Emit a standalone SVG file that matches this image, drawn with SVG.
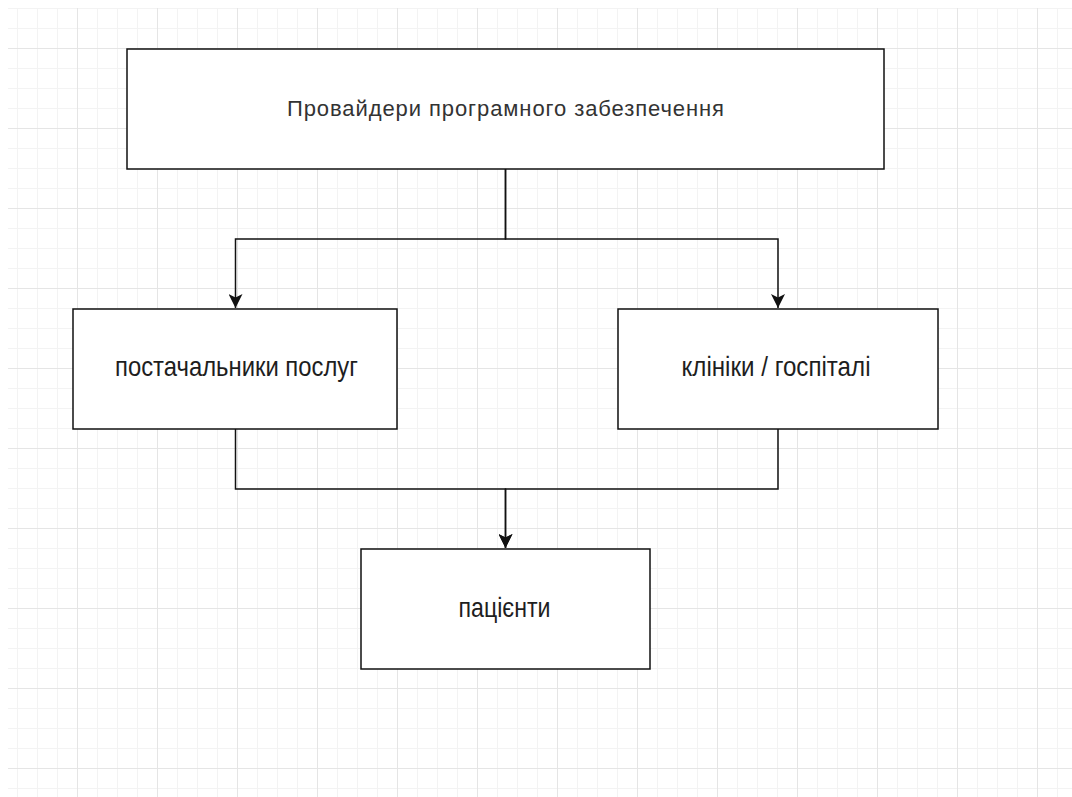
<svg xmlns="http://www.w3.org/2000/svg" width="1072" height="797" viewBox="0 0 1072 797">
  <style>
    .box { fill: #ffffff; stroke: #111111; stroke-width: 1.5; }
    .conn { fill: none; stroke: #111111; stroke-width: 1.5; }
    .lbl { font-family: "Liberation Sans", Arial, sans-serif; fill: #1e1e1e; text-anchor: middle; }
    .big { font-size: 28px; }
    .title { font-size: 22px; fill: #333333; }
  </style>
  <defs>
    <pattern id="grid" x="-3" y="-32" width="80" height="80" patternUnits="userSpaceOnUse">
      <rect x="0" y="0" width="80" height="80" fill="#ffffff"/>
      <rect x="20" y="0" width="1" height="80" fill="#f3f3f3"/>
      <rect x="40" y="0" width="1" height="80" fill="#f3f3f3"/>
      <rect x="60" y="0" width="1" height="80" fill="#f3f3f3"/>
      <rect x="0" y="20" width="80" height="1" fill="#f3f3f3"/>
      <rect x="0" y="40" width="80" height="1" fill="#f3f3f3"/>
      <rect x="0" y="60" width="80" height="1" fill="#f3f3f3"/>
      <rect x="0" y="0" width="1" height="80" fill="#e5e5e5"/>
      <rect x="0" y="0" width="80" height="1" fill="#e5e5e5"/>
    </pattern>
    <marker id="arrow" viewBox="0 0 14 14" refX="14" refY="7" markerWidth="14" markerHeight="14" markerUnits="userSpaceOnUse" orient="auto">
      <path d="M0,0 L14,7 L0,14 L3.5,7 Z" fill="#111111"/>
    </marker>
  </defs>

  <rect x="0" y="0" width="1072" height="797" fill="#ffffff"/>
  <rect x="8" y="8" width="1064" height="789" fill="url(#grid)"/>

  <g id="connectors">
    <path class="conn" d="M505.5,169 V239 H235.5 V308" marker-end="url(#arrow)"/>
    <path class="conn" d="M505.5,169 V239 H778 V308" marker-end="url(#arrow)"/>
    <path class="conn" d="M235.5,429 V489 H505.5 V548" marker-end="url(#arrow)"/>
    <path class="conn" d="M778,429 V489 H505.5 V548" marker-end="url(#arrow)"/>
  </g>

  <g id="node-providers">
    <rect class="box" x="127" y="49" width="757" height="120"/>
    <text class="lbl title" x="505.5" y="116" textLength="437" lengthAdjust="spacing">Провайдери програмного забезпечення</text>
  </g>

  <g id="node-suppliers">
    <rect class="box" x="73" y="309" width="324" height="120"/>
    <text class="lbl big" x="236.5" y="376" textLength="243" lengthAdjust="spacingAndGlyphs">постачальники послуг</text>
  </g>

  <g id="node-clinics">
    <rect class="box" x="618" y="309" width="320" height="120"/>
    <text class="lbl big" x="776" y="376" textLength="189" lengthAdjust="spacingAndGlyphs">клініки / госпіталі</text>
  </g>

  <g id="node-patients">
    <rect class="box" x="361" y="549" width="289" height="120"/>
    <text class="lbl big" x="504.5" y="617" textLength="92" lengthAdjust="spacingAndGlyphs">пацієнти</text>
  </g>
</svg>
